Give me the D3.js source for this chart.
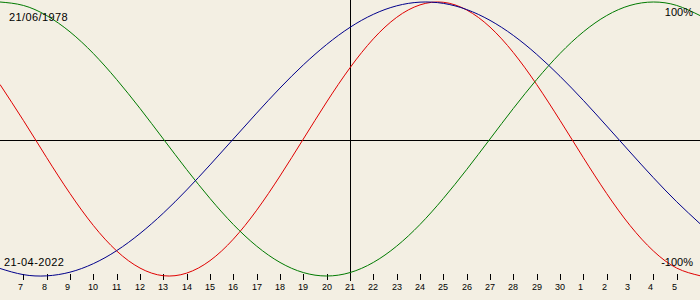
<!DOCTYPE html>
<html><head><meta charset="utf-8">
<script src="https://cdn.jsdelivr.net/npm/d3@7"></script>
<style>
html,body{margin:0;padding:0;background:#f3efe3;}
svg{display:block;}
text{font-family:"Liberation Sans",Arial,sans-serif;fill:#000;}
</style></head>
<body><svg id="c" width="700" height="300"></svg>
<script>
// day labels for the x axis (index 1..29)
const dayLabels = ["7","8","9","10","11","12","13","14","15","16","17","18","19","20","21","22","23","24","25","26","27","28","29","30","1","2","3","4","5"];
// series values (-1..1) for each day index 0..30
const physical = [0.398,0.136,-0.136,-0.398,-0.631,-0.817,-0.942,-0.998,-0.979,-0.888,-0.731,-0.520,-0.270,0,0.270,0.520,0.731,0.888,0.979,0.998,0.942,0.817,0.631,0.398,0.136,-0.136,-0.398,-0.631,-0.817,-0.942,-0.998];
const emotional = [1,0.975,0.901,0.782,0.624,0.434,0.223,0,-0.223,-0.434,-0.624,-0.782,-0.901,-0.975,-1,-0.975,-0.901,-0.782,-0.624,-0.434,-0.223,0,0.223,0.434,0.624,0.782,0.901,0.975,1,0.975,0.901];
const intellectual = [-0.945,-0.990,-0.999,-0.972,-0.910,-0.815,-0.690,-0.541,-0.372,-0.189,0,0.189,0.372,0.541,0.690,0.815,0.910,0.972,0.999,0.990,0.945,0.866,0.756,0.618,0.458,0.282,0.095,-0.095,-0.282,-0.458,-0.618];
const birthLabel = "21/06/1978";
const dateLabel = "21-04-2022";
const topLabel = "100%";
const bottomLabel = "-100%";

const svg = d3.select("#c");
svg.append("rect").attr("width",700).attr("height",300).attr("fill","#f3efe3");
const x = d3.scaleLinear().domain([0,30]).range([0,700]);
const y = d3.scaleLinear().domain([-1,1]).range([276,2]);

// axes lines
svg.append("line").attr("x1",0).attr("x2",700).attr("y1",140.5).attr("y2",140.5).attr("stroke","#000");
svg.append("line").attr("x1",350.5).attr("x2",350.5).attr("y1",0).attr("y2",281).attr("stroke","#000");

// ticks
const g = svg.append("g");
dayLabels.forEach((lab,k)=>{
  const i = k+1;
  const tx = Math.round(x(i))+0.5;
  g.append("line").attr("x1",tx).attr("x2",tx).attr("y1",274).attr("y2",280).attr("stroke","#000");
  g.append("text").attr("x",Math.round(x(i))-5).attr("y",290).attr("font-size",9).text(lab);
});

const line = d3.line().x((d,i)=>x(i)).y(d=>y(d)).curve(d3.curveNatural);
[[physical,"#e00000"],[emotional,"#007a00"],[intellectual,"#00008b"]].forEach(([s,c])=>{
  svg.append("path").attr("d",line(s)).attr("fill","none").attr("stroke",c).attr("stroke-width",1);
});

svg.append("text").attr("x",9).attr("y",21).attr("font-size",11).attr("letter-spacing",0.4).text(birthLabel);
svg.append("text").attr("x",4).attr("y",266).attr("font-size",11).attr("letter-spacing",0.4).text(dateLabel);
svg.append("text").attr("x",693).attr("y",16).attr("font-size",11).attr("text-anchor","end").text(topLabel);
svg.append("text").attr("x",693).attr("y",266).attr("font-size",11).attr("text-anchor","end").text(bottomLabel);
</script></body></html>
